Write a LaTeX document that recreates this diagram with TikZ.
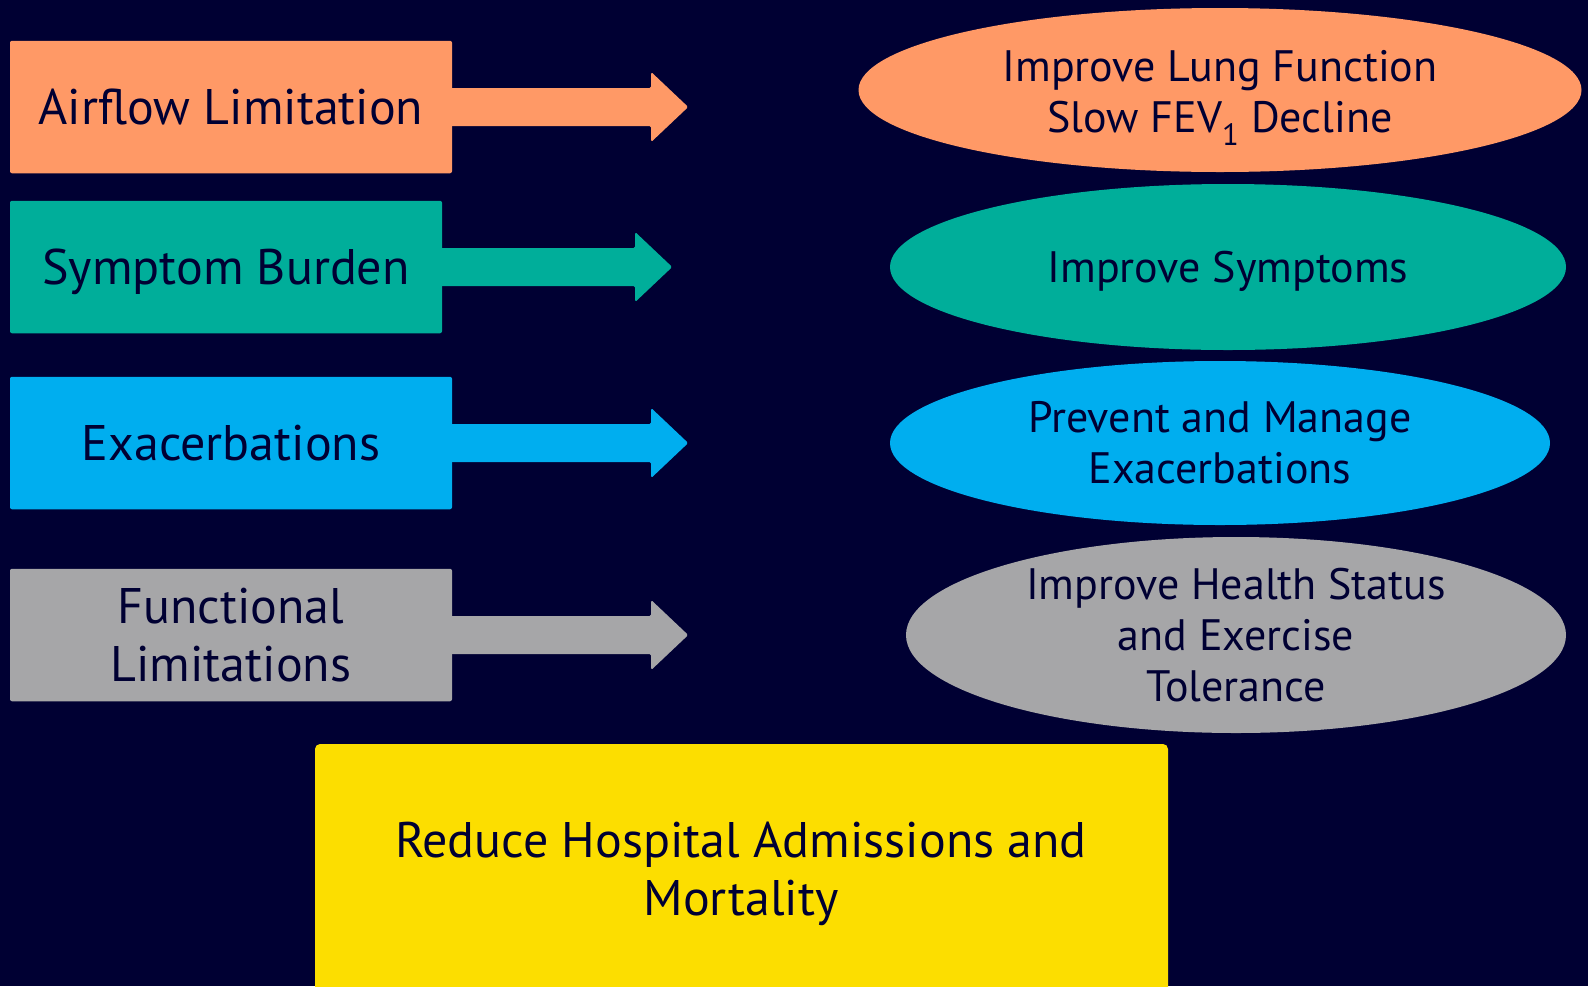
\documentclass[tikz,border=0pt]{standalone}
\usepackage{fontspec}
\setmainfont{PT Sans}
\usetikzlibrary{shapes.geometric}

\definecolor{bg}{RGB}{0,0,51}
\definecolor{ink}{RGB}{0,0,51}
\definecolor{orangeC}{RGB}{255,153,102}
\definecolor{tealC}{RGB}{0,174,154}
\definecolor{blueC}{RGB}{0,174,239}
\definecolor{greyC}{RGB}{166,166,168}
\definecolor{yellowC}{RGB}{252,222,0}

\tikzset{
  causebox/.style={rectangle, rounded corners=2pt, inner sep=0pt,
    minimum height=132.5pt, text=ink, align=center,
    font=\fontsize{50}{58}\selectfont},
  goal/.style={ellipse, inner sep=0pt},
  goaltext/.style={text=ink, align=center, font=\fontsize{44}{51}\selectfont},
  % block arrow: #1 = head base offset, #2 = tip offset (from the box edge)
  pics/blockarrow/.style args={#1/#2}{code={
    \fill[rounded corners=1.5pt] (-2,-19) -- (#1,-19) -- (#1,-35)
      -- (#2,0) -- (#1,35) -- (#1,19) -- (-2,19) -- cycle;
  }},
}

\begin{document}
\begin{tikzpicture}[x=1pt,y=-1pt]
  \fill[bg] (0,0) rectangle (1588,986);
  \useasboundingbox (0,0) rectangle (1588,986);

  % problem boxes on the left
  \node[causebox, fill=orangeC, minimum width=442pt] (c1) at (231,107) {Airflow Limitation};
  \node[causebox, fill=tealC, minimum width=432pt, text depth=0pt] (c2) at (226,267) {Symptom Burden};
  \node[causebox, fill=blueC, minimum width=442pt] (c3) at (231,443) {Exacerbations};
  \node[causebox, fill=greyC, minimum width=442pt] (c4) at (231,635) {Functional\\Limitations};

  % arrows leaving the boxes
  \pic[color=orangeC] at (c1.east) {blockarrow=199/236};
  \pic[color=tealC] at (c2.east) {blockarrow=193/230};
  \pic[color=blueC] at (c3.east) {blockarrow=199/236};
  \pic[color=greyC] at (c4.east) {blockarrow=199/236};

  % treatment goals on the right
  \node[goal, fill=orangeC, minimum width=723pt, minimum height=164pt] (g1) at (1220,90) {};
  \node[goaltext] (g1t) at ([yshift=-8pt]g1) {Improve Lung Function\\Slow FEV\textsubscript{1} Decline};
  \node[goal, fill=tealC, minimum width=676pt, minimum height=166pt] (g2) at (1228,267) {};
  \node[goaltext, text depth=0pt] (g2t) at (g2) {Improve Symptoms};
  \node[goal, fill=blueC, minimum width=660pt, minimum height=164pt] (g3) at (1220,443) {};
  \node[goaltext] (g3t) at (g3) {Prevent and Manage\\Exacerbations};
  \node[goal, fill=greyC, minimum width=660pt, minimum height=196pt] (g4) at (1236,635) {};
  \node[goaltext] (g4t) at (g4) {Improve Health Status\\and Exercise\\Tolerance};

  % overall outcome box, running off the bottom edge
  \fill[yellowC, rounded corners=5pt] (315,744) rectangle (1168,1010);
  \node[causebox, minimum height=0pt] (out) at (741,874) {Reduce Hospital Admissions and\\Mortality};
\end{tikzpicture}
\end{document}
